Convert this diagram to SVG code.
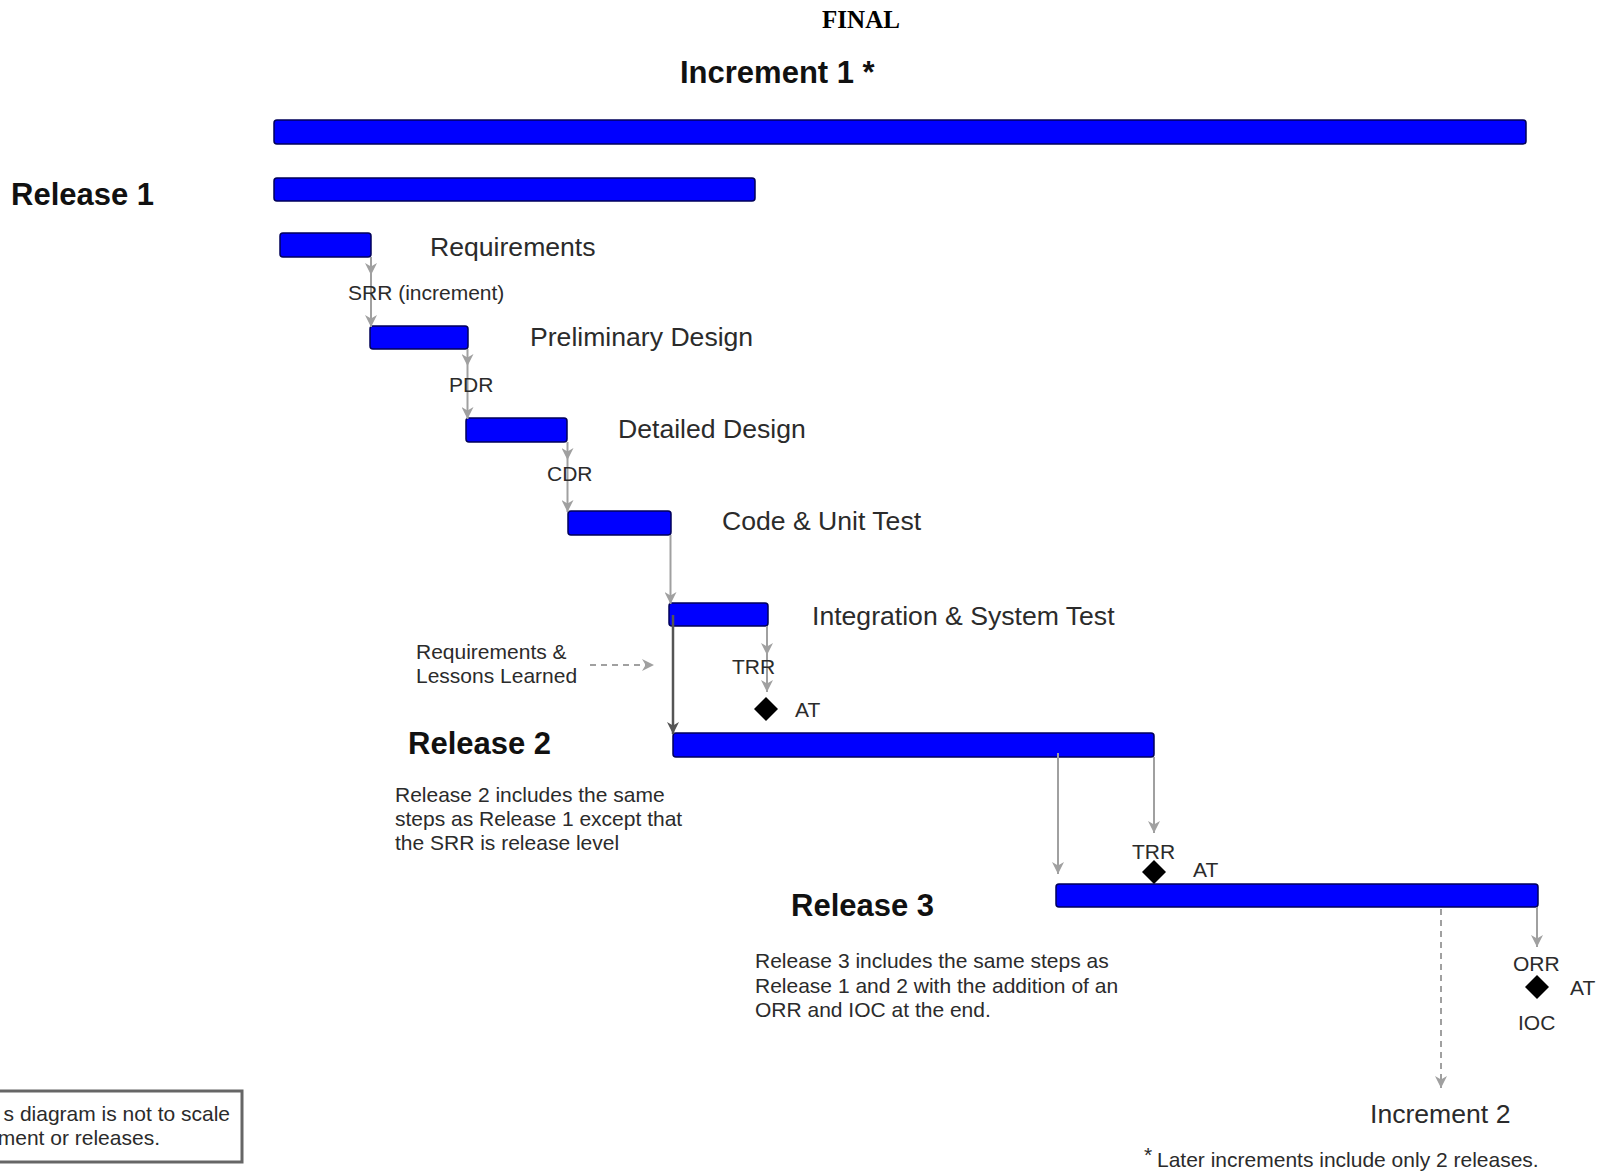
<svg xmlns="http://www.w3.org/2000/svg" width="1602" height="1171" viewBox="0 0 1602 1171">
<style>
.bar{fill:#0000FF;stroke:#00005a;stroke-width:1.5}
.stage{font-family:"Liberation Sans",Arial,sans-serif;font-size:26.6px;fill:#2b2b2b}
.rel{font-family:"Liberation Sans",Arial,sans-serif;font-size:31px;font-weight:bold;fill:#111}
.sm{font-family:"Liberation Sans",Arial,sans-serif;font-size:21px;fill:#2b2b2b}
.con{fill:none;stroke:#a0a0a0;stroke-width:2}
.dark{fill:none;stroke:#555;stroke-width:2.5}
.dash{fill:none;stroke:#a0a0a0;stroke-width:2;stroke-dasharray:6,5}
.ms{fill:#000}
</style>
<defs>
<marker id="ah" viewBox="0 0 10 10" refX="10" refY="5" markerWidth="12" markerHeight="12" markerUnits="userSpaceOnUse" orient="auto"><path d="M0,0 L10,5 L0,10 L3,5 z" fill="#a0a0a0"/></marker>
<marker id="ahd" viewBox="0 0 10 10" refX="10" refY="5" markerWidth="12" markerHeight="12" markerUnits="userSpaceOnUse" orient="auto"><path d="M0,0 L10,5 L0,10 L3,5 z" fill="#555"/></marker>
</defs>
<rect width="1602" height="1171" fill="#fff"/>
<text x="861" y="28" text-anchor="middle" font-family="'Liberation Serif','Times New Roman',serif" font-weight="bold" font-size="25">FINAL</text>

<g id="increment1">
<rect class="bar" x="274" y="120" width="1252" height="24" rx="3"/>
<text class="rel" x="680" y="83">Increment 1 *</text>
</g>
<g id="release1">
<rect class="bar" x="274" y="178" width="481" height="23" rx="3"/>
<text class="rel" x="11" y="205">Release 1</text>
</g>
<g id="requirements">
<rect class="bar" x="280" y="233" width="91" height="24" rx="3"/>
<text class="stage" x="430" y="255.5">Requirements</text>
</g>
<g id="prelim">
<rect class="bar" x="370" y="326" width="98" height="23" rx="3"/>
<text class="stage" x="530" y="345.5">Preliminary Design</text>
</g>
<g id="detailed">
<rect class="bar" x="466" y="418" width="101" height="24" rx="3"/>
<text class="stage" x="618" y="437.5">Detailed Design</text>
</g>
<g id="code">
<rect class="bar" x="568" y="511" width="103" height="24" rx="3"/>
<text class="stage" x="722" y="529.5">Code &amp; Unit Test</text>
</g>
<g id="integration">
<rect class="bar" x="669" y="603" width="99" height="23" rx="3"/>
<text class="stage" x="812" y="624.5">Integration &amp; System Test</text>
</g>
<g id="release2">
<rect class="bar" x="673" y="733" width="481" height="24" rx="3"/>
<text class="rel" x="408" y="754">Release 2</text>
<text class="sm" x="395" y="801.5">Release 2 includes the same</text>
<text class="sm" x="395" y="825.5">steps as Release 1 except that</text>
<text class="sm" x="395" y="850">the SRR is release level</text>
</g>
<g id="release3">
<rect class="bar" x="1056" y="884" width="482" height="23" rx="3"/>
<text class="rel" x="791" y="916">Release 3</text>
<text class="sm" x="755" y="967.5">Release 3 includes the same steps as</text>
<text class="sm" x="755" y="992.5">Release 1 and 2 with the addition of an</text>
<text class="sm" x="755" y="1016.5">ORR and IOC at the end.</text>
</g>
<g id="lessons">
<text class="sm" x="416" y="658.5">Requirements &amp;</text>
<text class="sm" x="416" y="682.5">Lessons Learned</text>
</g>

<g id="connectors">
<line class="con" x1="371" y1="257" x2="371" y2="275" marker-end="url(#ah)"/>
<line class="con" x1="371" y1="275" x2="371" y2="327" marker-end="url(#ah)"/>
<line class="con" x1="467.5" y1="349" x2="467.5" y2="366" marker-end="url(#ah)"/>
<line class="con" x1="467.5" y1="366" x2="467.5" y2="419" marker-end="url(#ah)"/>
<line class="con" x1="567.5" y1="442" x2="567.5" y2="460" marker-end="url(#ah)"/>
<line class="con" x1="567.5" y1="460" x2="567.5" y2="512" marker-end="url(#ah)"/>
<line class="con" x1="670.5" y1="535" x2="670.5" y2="604" marker-end="url(#ah)"/>
<line class="con" x1="767" y1="626" x2="767" y2="655" marker-end="url(#ah)"/>
<line class="con" x1="767" y1="655" x2="767" y2="692" marker-end="url(#ah)"/>
<line class="dark" x1="673" y1="615" x2="673" y2="734" marker-end="url(#ahd)"/>
<line class="dash" x1="590" y1="665" x2="654" y2="665" marker-end="url(#ah)"/>
<line class="con" x1="1058" y1="753" x2="1058" y2="874" marker-end="url(#ah)"/>
<line class="con" x1="1154" y1="757" x2="1154" y2="833" marker-end="url(#ah)"/>
<line class="con" x1="1537" y1="907" x2="1537" y2="947" marker-end="url(#ah)"/>
<line class="dash" x1="1441" y1="909" x2="1441" y2="1088" marker-end="url(#ah)"/>
</g>

<g id="labels">
<text class="sm" x="348" y="299.5">SRR (increment)</text>
<text class="sm" x="449" y="391.5">PDR</text>
<text class="sm" x="547" y="481">CDR</text>
<text class="sm" x="732" y="674">TRR</text>
<text class="sm" x="795" y="716.5">AT</text>
<text class="sm" x="1132" y="859">TRR</text>
<text class="sm" x="1193" y="877">AT</text>
<text class="sm" x="1513" y="970.5">ORR</text>
<text class="sm" x="1570" y="994.5">AT</text>
<text class="sm" x="1518" y="1029.5">IOC</text>
</g>

<g id="milestones">
<polygon class="ms" points="766,697 778,709 766,721 754,709"/>
<polygon class="ms" points="1154,860 1166,872 1154,884 1142,872"/>
<polygon class="ms" points="1537,975 1549,987 1537,999 1525,987"/>
</g>

<g id="increment2">
<text class="stage" x="1370" y="1122.5">Increment 2</text>
</g>
<g id="footnote">
<text class="sm" x="1144" y="1162" font-size="13">*</text>
<text class="sm" x="1157" y="1166.5">Later increments include only 2 releases.</text>
</g>
<g id="scalenote">
<rect x="-10" y="1091" width="252" height="71" fill="none" stroke="#666" stroke-width="3"/>
<text class="sm" x="230" y="1120.5" text-anchor="end">s diagram is not to scale</text>
<text class="sm" x="160" y="1144.5" text-anchor="end">ment or releases.</text>
</g>
</svg>
